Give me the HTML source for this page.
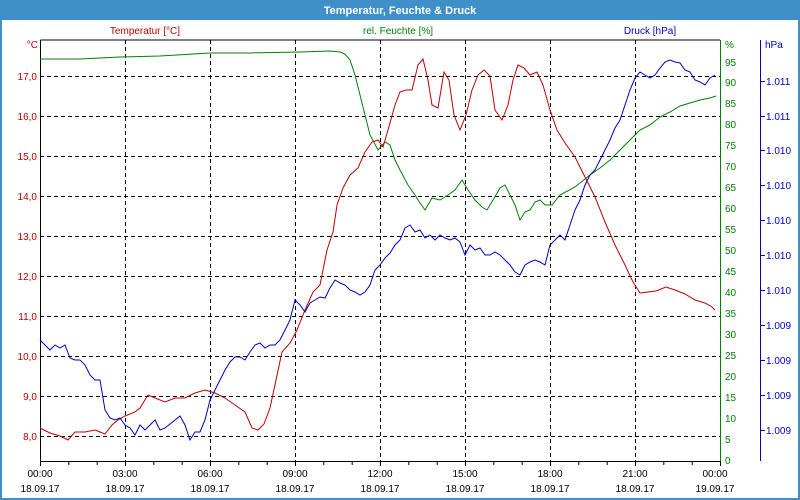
<!DOCTYPE html>
<html><head><meta charset="utf-8"><style>
html,body{margin:0;padding:0;background:#fff}
svg{display:block;font-family:"Liberation Sans",sans-serif}
</style></head><body>
<svg width="800" height="500" viewBox="0 0 800 500" xmlns="http://www.w3.org/2000/svg">
<rect x="0" y="0" width="800" height="500" fill="#fff"/>
<rect x="1" y="1" width="798" height="498" fill="none" stroke="#3f8fc8" stroke-width="2"/>
<rect x="0" y="0" width="800" height="20" fill="#3f8fc8"/>
<text x="400" y="14" text-anchor="middle" font-size="11" font-weight="bold" fill="#fff">Temperatur, Feuchte &amp; Druck</text>
<g font-size="10">
<text x="145" y="34" text-anchor="middle" fill="#c00000">Temperatur [°C]</text>
<text x="398" y="34" text-anchor="middle" fill="#008000">rel. Feuchte [%]</text>
<text x="650" y="34" text-anchor="middle" fill="#0000c0">Druck [hPa]</text>
</g>
<!-- grid -->
<g stroke="#000" stroke-width="1" stroke-dasharray="4,3" fill="none">
<path d="M40 76.5H720M40 116.5H720M40 156.5H720M40 196.5H720M40 236.5H720M40 276.5H720M40 316.5H720M40 356.5H720M40 396.5H720M40 436.5H720"/>
<path d="M125.5 40V461M210.5 40V461M295.5 40V461M380.5 40V461M465.5 40V461M550.5 40V461M635.5 40V461"/>
</g>
<!-- axes -->
<path d="M40.5 40V461.5H720" stroke="#000" fill="none"/>
<path d="M720.5 40V461" stroke="#008000" fill="none"/>
<path d="M760.5 40V461" stroke="#0000c0" fill="none"/>
<path d="M40.5 40H720" stroke="#000" fill="none"/>
<g stroke="#000">
<path d="M40.5 461V466M68.8 461V465M97.2 461V465M125.5 461V466M153.8 461V465M182.2 461V465M210.5 461V466M238.8 461V465M267.2 461V465M295.5 461V466M323.8 461V465M352.2 461V465M380.5 461V466M408.8 461V465M437.2 461V465M465.5 461V466M493.8 461V465M522.2 461V465M550.5 461V466M578.8 461V465M607.2 461V465M635.5 461V466M663.8 461V465M692.2 461V465M720.5 461V466"/>
</g>
<!-- left labels -->
<g font-size="10" fill="#c00000" text-anchor="end">
<text x="38" y="48">°C</text>
<text x="37" y="80">17,0</text><text x="37" y="120">16,0</text><text x="37" y="160">15,0</text><text x="37" y="200">14,0</text><text x="37" y="240">13,0</text><text x="37" y="280">12,0</text><text x="37" y="320">11,0</text><text x="37" y="360">10,0</text><text x="37" y="400">9,0</text><text x="37" y="440">8,0</text>
</g>
<g font-size="10" fill="#008000">
<text x="725" y="48">%</text>
<text x="725" y="66">95</text><text x="725" y="86">90</text><text x="725" y="107">85</text><text x="725" y="128">80</text><text x="725" y="149">75</text><text x="725" y="170">70</text><text x="725" y="191">65</text><text x="725" y="212">60</text><text x="725" y="233">55</text><text x="725" y="254">50</text><text x="725" y="275">45</text><text x="725" y="296">40</text><text x="725" y="317">35</text><text x="725" y="338">30</text><text x="725" y="359">25</text><text x="725" y="380">20</text><text x="725" y="401">15</text><text x="725" y="422">10</text><text x="725" y="443">5</text><text x="725" y="464">0</text>
</g>
<g stroke="#0000c0"><path d="M760 81.5H765M760 116.5H765M760 150.5H765M760 185.5H765M760 220.5H765M760 255.5H765M760 290.5H765M760 325.5H765M760 360.5H765M760 395.5H765M760 430.5H765"/></g>
<g font-size="10" fill="#0000c0">
<text x="765" y="48">hPa</text>
<text x="766" y="85">1.011</text><text x="766" y="120">1.011</text><text x="766" y="154">1.010</text><text x="766" y="189">1.010</text><text x="766" y="224">1.010</text><text x="766" y="259">1.010</text><text x="766" y="294">1.010</text><text x="766" y="329">1.009</text><text x="766" y="364">1.009</text><text x="766" y="399">1.009</text><text x="766" y="434">1.009</text>
</g>
<g font-size="10" fill="#000" text-anchor="middle">
<text x="40" y="477">00:00</text><text x="125" y="477">03:00</text><text x="210" y="477">06:00</text><text x="295" y="477">09:00</text><text x="380" y="477">12:00</text><text x="465" y="477">15:00</text><text x="550" y="477">18:00</text><text x="635" y="477">21:00</text><text x="715" y="477">00:00</text>
<text x="40" y="492">18.09.17</text><text x="125" y="492">18.09.17</text><text x="210" y="492">18.09.17</text><text x="295" y="492">18.09.17</text><text x="380" y="492">18.09.17</text><text x="465" y="492">18.09.17</text><text x="550" y="492">18.09.17</text><text x="635" y="492">18.09.17</text><text x="715" y="492">19.09.17</text>
</g>
<!-- series -->
<polyline fill="none" stroke="#008000" stroke-width="1" points="40,59 80,59 120,57 160,56 210,53 250,53 300,52 330,51 340,52 345,54 350,60 355,75 360,95 365,115 370,135 378,150 385,142 390,145 395,160 400,170 408,185 415,195 420,203 425,210 432,198 440,200 448,195 455,190 462,180 468,190 475,200 482,207 487,210 493,200 500,188 505,185 510,195 515,205 520,220 525,212 530,210 535,202 540,200 545,205 552,205 560,195 575,187 590,175 600,168 610,160 620,150 630,140 640,130 650,125 660,117 670,112 680,106 690,103 700,100 710,98 716,96"/>
<polyline fill="none" stroke="#c00000" stroke-width="1" points="40,428 50,433 60,436 68,440 75,432 85,432 95,430 105,434 112,425 118,420 125,416 135,412 140,408 148,395 155,398 165,402 175,398 185,398 195,393 205,390 215,393 225,398 235,405 245,412 252,428 258,430 264,424 270,408 276,380 282,352 290,343 297,330 305,310 313,292 320,285 327,250 333,232 337,205 343,188 350,175 358,168 365,152 372,142 378,140 383,147 388,130 395,105 400,92 406,90 412,90 418,65 423,59 428,80 432,105 438,108 444,72 449,80 454,115 460,130 466,115 472,90 478,75 484,70 490,76 495,110 502,120 508,105 513,80 518,65 524,68 530,75 537,72 543,85 550,110 557,130 565,143 575,157 585,177 595,197 605,222 615,245 625,265 633,282 640,293 648,292 656,291 666,287 675,290 685,294 695,300 705,303 712,307 715,310"/>
<polyline fill="none" stroke="#0000c0" stroke-width="1" points="40,340 45,345 50,350 55,345 60,348 65,345 70,358 75,360 80,360 85,365 90,375 95,380 100,380 105,410 110,418 115,420 120,418 125,425 130,428 135,435 140,425 145,430 150,425 155,420 160,430 165,428 170,424 175,420 180,416 185,425 190,440 195,432 200,432 205,420 210,400 215,390 220,380 225,370 230,362 235,357 240,357 245,360 250,352 255,345 260,343 265,348 270,345 275,345 280,340 285,330 290,320 295,300 300,305 305,312 310,303 315,300 320,297 325,298 330,288 335,280 340,283 345,285 350,290 355,292 360,295 365,292 370,285 375,270 380,265 385,258 390,253 395,245 400,240 405,228 410,225 415,232 420,230 425,238 430,235 435,240 440,235 445,238 450,240 455,238 460,242 465,255 470,245 475,250 480,248 485,255 490,255 495,252 500,255 505,260 510,265 515,272 520,275 525,265 530,262 535,260 540,262 545,265 550,245 555,240 560,235 565,240 570,225 575,210 580,200 585,185 590,175 595,170 600,160 605,150 610,140 615,128 620,120 625,105 630,90 635,78 640,72 645,75 650,78 655,75 660,68 665,62 670,60 675,62 680,63 685,70 690,72 695,80 700,82 705,85 710,78 715,75"/>
</svg>
</body></html>
